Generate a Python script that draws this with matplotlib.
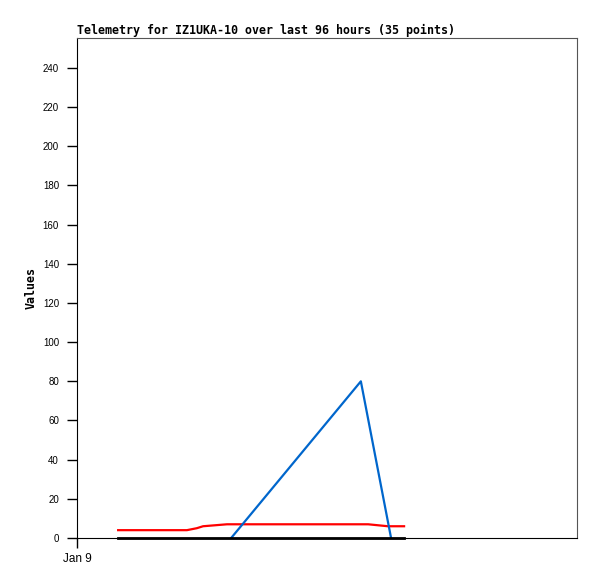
import matplotlib
matplotlib.use("Agg")
from matplotlib import pyplot as plt

# hours since Jan 9 00:00
red_hours = [7.9, 21.1, 23.0, 24.2, 28.8, 55.9, 59.7, 62.8]
red_vals = [4, 4, 5, 6, 7, 7, 6, 6]

blue_hours = [29.6, 54.5, 60.3]
blue_vals = [0, 80, 0]

black_hours = [7.9, 62.8]
black_vals = [0, 0]

yticks = [0, 20, 40, 60, 80, 100, 120, 140, 160, 180, 200, 220, 240]
xticks = [0]
xticklabels = ['Jan 9']

fig = plt.figure(figsize=(5.97, 5.79), dpi=100)
ax = fig.add_axes([77/597, 41/579, 500/597, 500/579])

ax.plot(red_hours, red_vals, color='#ff0000', lw=1.6)
ax.plot(blue_hours, blue_vals, color='#0066cc', lw=1.6)
ax.plot(black_hours, black_vals, color='black', lw=2, clip_on=False)

ax.set_xlim(0, 96)
ax.set_ylim(0, 255.3)
ax.set_yticks(yticks)
ax.set_xticks(xticks)
ax.set_xticklabels(xticklabels)
ax.tick_params(axis='both', direction='out', length=7, width=1)
ax.tick_params(axis='y', labelsize=7, pad=6)
ax.tick_params(axis='x', labelsize=8.5, pad=4)
for lab in ax.get_yticklabels() + ax.get_xticklabels():
    lab.set_family('Liberation Sans')

for side in ['top', 'right']:
    ax.spines[side].set_color('#555555')
for side in ['left', 'bottom']:
    ax.spines[side].set_color('black')

ax.set_ylabel('Values', family='DejaVu Sans Mono', fontweight='bold', fontsize=8.4)
ax.yaxis.set_label_coords(-(77 - 38) / 500, 0.5)
ax.set_title('Telemetry for IZ1UKA-10 over last 96 hours (35 points)',
             family='DejaVu Sans Mono', fontweight='bold', fontsize=8.4,
             loc='left', pad=3)

fig.savefig('out.png', dpi=100)
